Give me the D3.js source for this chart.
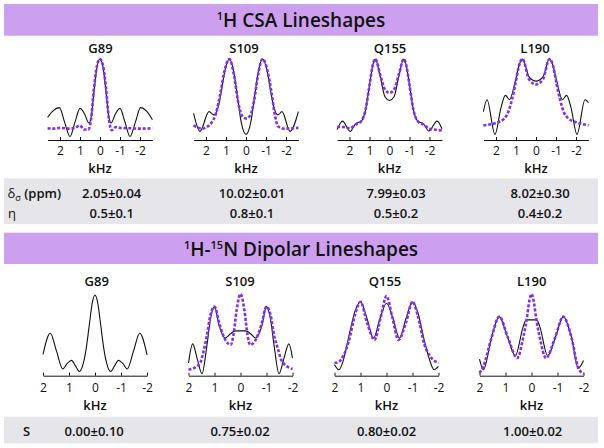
<!DOCTYPE html>
<html><head><meta charset="utf-8">
<script src="https://cdn.jsdelivr.net/npm/d3@7"></script>
<style>body{margin:0;background:#fff}svg{display:block}</style>
</head><body><svg id="c" width="604" height="448"></svg>
<script>
// ---------- data ----------
const residues = ["G89", "S109", "Q155", "L190"];
const kHzTicks = [2, 1, 0, -1, -2];
const csaDelta = ["2.05±0.04", "10.02±0.01", "7.99±0.03", "8.02±0.30"];
const csaEta = ["0.5±0.1", "0.8±0.1", "0.5±0.2", "0.4±0.2"];
const dipolarS = ["0.00±0.10", "0.75±0.02", "0.80±0.02", "1.00±0.02"];

// 1H CSA lineshapes: [kHz, normalized intensity]; Exp = black solid, Sim = purple dashed
const csaExpG89 = [[2.62,0.28],[2.35,0.36],[2.03,0.40],[1.77,0.22],[1.5,0.044],[1.25,0.22],[1.0,0.39],[0.77,0.32],[0.55,0.21],[0.43,0.3],[0.3,0.6],[0.15,0.9],[0,1.0],[-0.15,0.9],[-0.3,0.6],[-0.43,0.3],[-0.55,0.21],[-0.77,0.32],[-1.0,0.39],[-1.25,0.22],[-1.5,0.044],[-1.77,0.22],[-2.03,0.40],[-2.35,0.35],[-2.62,0.25]];
const csaSimG89 = [[2.62,0.145],[2.3,0.14],[2.0,0.15],[1.6,0.14],[1.25,0.15],[1.0,0.18],[0.8,0.13],[0.58,0.13],[0.45,0.25],[0.3,0.64],[0.15,0.92],[0,1.0],[-0.15,0.92],[-0.3,0.64],[-0.45,0.25],[-0.58,0.12],[-0.8,0.16],[-1.0,0.15],[-1.5,0.145],[-2.0,0.14],[-2.62,0.145]];
const csaExpS109 = [[2.62,0.33],[2.3,0.107],[1.85,0.35],[1.6,0.31],[1.4,0.40],[1.22,0.62],[1.05,0.86],[0.83,1.0],[0.62,0.85],[0.43,0.54],[0.24,0.22],[0,0.069],[-0.24,0.22],[-0.43,0.54],[-0.62,0.85],[-0.83,1.0],[-1.05,0.86],[-1.22,0.62],[-1.4,0.40],[-1.6,0.31],[-1.8,0.35],[-2.2,0.107],[-2.62,0.35]];
const csaSimS109 = [[2.62,0.18],[2.2,0.14],[1.9,0.17],[1.7,0.22],[1.5,0.33],[1.28,0.58],[1.07,0.86],[0.83,1.0],[0.6,0.8],[0.4,0.48],[0.2,0.3],[0,0.267],[-0.2,0.3],[-0.4,0.48],[-0.6,0.8],[-0.83,1.0],[-1.07,0.86],[-1.28,0.58],[-1.45,0.3],[-1.6,0.17],[-1.9,0.14],[-2.62,0.15]];
const csaExpQ155 = [[2.62,0.128],[2.35,0.233],[1.97,0.107],[1.7,0.2],[1.42,0.23],[1.2,0.37],[0.98,0.71],[0.84,0.92],[0.71,1.0],[0.48,0.8],[0.22,0.53],[0,0.488],[-0.22,0.53],[-0.48,0.8],[-0.71,1.0],[-0.84,0.92],[-0.98,0.71],[-1.2,0.37],[-1.42,0.23],[-1.7,0.2],[-1.97,0.111],[-2.38,0.233],[-2.62,0.14]];
const csaSimQ155 = [[2.62,0.161],[2.3,0.16],[1.97,0.145],[1.7,0.19],[1.42,0.23],[1.2,0.37],[0.98,0.71],[0.84,0.92],[0.71,1.0],[0.48,0.82],[0.22,0.62],[0,0.581],[-0.22,0.62],[-0.48,0.82],[-0.71,1.0],[-0.84,0.92],[-0.98,0.71],[-1.2,0.37],[-1.42,0.23],[-1.7,0.19],[-2.0,0.14],[-2.62,0.119]];
const csaExpL190 = [[2.63,0.35],[2.45,0.497],[2.05,0.069],[1.75,0.4],[1.53,0.551],[1.32,0.497],[1.05,0.711],[0.85,0.92],[0.67,1.0],[0.35,0.78],[0,0.727],[-0.35,0.78],[-0.67,1.0],[-0.85,0.92],[-1.05,0.711],[-1.32,0.497],[-1.53,0.551],[-1.75,0.4],[-2.05,0.069],[-2.45,0.497],[-2.63,0.46]];
const csaSimL190 = [[2.63,0.182],[2.0,0.211],[1.6,0.26],[1.4,0.34],[1.2,0.5],[1.0,0.73],[0.85,0.92],[0.67,1.0],[0.35,0.75],[0,0.686],[-0.35,0.75],[-0.67,1.0],[-0.85,0.92],[-1.0,0.73],[-1.2,0.5],[-1.4,0.34],[-1.6,0.27],[-2.0,0.22],[-2.63,0.182]];

// 1H-15N dipolar lineshapes
const dipExpG89 = [[2.0,0.26],[1.72,0.52],[1.48,0.3],[1.24,0.082],[1.07,0.15],[0.9,0.187],[0.75,0.12],[0.6,0.052],[0.45,0.15],[0.33,0.35],[0.22,0.62],[0.1,0.9],[0,0.988],[-0.1,0.9],[-0.22,0.62],[-0.33,0.35],[-0.45,0.15],[-0.6,0.052],[-0.75,0.12],[-0.9,0.187],[-1.07,0.15],[-1.24,0.082],[-1.48,0.3],[-1.72,0.52],[-2.0,0.256]];
const dipExpS109 = [[2.0,0.155],[1.84,0.39],[1.66,0.2],[1.48,0.024],[1.3,0.35],[1.15,0.7],[1.0,0.845],[0.82,0.61],[0.59,0.46],[0.4,0.51],[0.2,0.549],[0,0.549],[-0.2,0.549],[-0.4,0.51],[-0.59,0.46],[-0.82,0.61],[-1.0,0.845],[-1.15,0.7],[-1.3,0.35],[-1.48,0.024],[-1.66,0.2],[-1.86,0.39],[-2.0,0.216]];
const dipSimS109 = [[2.0,0.073],[1.7,0.11],[1.55,0.155],[1.42,0.3],[1.3,0.479],[1.15,0.75],[1.0,0.845],[0.8,0.62],[0.55,0.42],[0.37,0.378],[0.27,0.5],[0.15,0.8],[0,1.0],[-0.15,0.8],[-0.27,0.5],[-0.37,0.378],[-0.55,0.42],[-0.8,0.62],[-1.0,0.845],[-1.15,0.75],[-1.3,0.479],[-1.42,0.35],[-1.6,0.174],[-2.0,0.082]];
const dipExpQ155 = [[2.0,0.134],[1.83,0.073],[1.65,0.2],[1.45,0.479],[1.2,0.8],[1.0,0.906],[0.75,0.7],[0.5,0.46],[0.25,0.7],[0,0.887],[-0.25,0.7],[-0.5,0.46],[-0.75,0.7],[-1.0,0.906],[-1.2,0.78],[-1.45,0.439],[-1.65,0.2],[-1.83,0.073],[-2.0,0.113]];
const dipSimQ155 = [[2.0,0.155],[1.83,0.17],[1.65,0.25],[1.45,0.42],[1.2,0.76],[1.0,0.906],[0.75,0.65],[0.46,0.439],[0.22,0.72],[0,0.976],[-0.22,0.72],[-0.46,0.439],[-0.75,0.65],[-1.0,0.906],[-1.2,0.74],[-1.45,0.39],[-1.65,0.25],[-1.83,0.187],[-2.0,0.155]];
const dipExpL190 = [[2.0,0.204],[1.85,0.073],[1.53,0.479],[1.24,0.723],[0.93,0.48],[0.62,0.244],[0.32,0.601],[0.2,0.683],[0,0.683],[-0.2,0.683],[-0.32,0.601],[-0.62,0.244],[-0.93,0.48],[-1.22,0.723],[-1.53,0.479],[-1.8,0.094],[-2.0,0.187]];
const dipSimL190 = [[2.0,0.033],[1.85,0.113],[1.55,0.45],[1.24,0.723],[0.9,0.46],[0.55,0.216],[0.31,0.48],[0.18,0.7],[0.08,0.92],[0,1.0],[-0.08,0.92],[-0.18,0.7],[-0.31,0.48],[-0.56,0.216],[-0.9,0.46],[-1.22,0.723],[-1.55,0.45],[-1.8,0.094],[-2.0,0.024]];

const csaExp = [csaExpG89, csaExpS109, csaExpQ155, csaExpL190];
const csaSim = [csaSimG89, csaSimS109, csaSimQ155, csaSimL190];
const dipExp = [dipExpG89, dipExpS109, dipExpQ155, dipExpL190];
const dipSim = [null, dipSimS109, dipSimQ155, dipSimL190];

// ---------- layout ----------
const FONT = "'Open Sans', sans-serif";
const PURPLE_BAND = "#cda0ef";
const GRAY_BAND = "#e6e5ea";
const DASH = "#7f2ef2";
const svg = d3.select("#c");

function band(y, h, fill) {
  svg.append("rect").attr("x", 4).attr("y", y).attr("width", 594).attr("height", h).attr("fill", fill);
}
function header(y, h, baseline, parts) {
  band(y, h, PURPLE_BAND);
  const t = svg.append("text").attr("x", 301).attr("y", baseline).attr("text-anchor", "middle")
    .attr("font-family", FONT).attr("font-weight", 600).attr("font-size", 19).attr("fill", "#111");
  parts.forEach(p => {
    const s = t.append("tspan").text(p.t);
    if (p.sup) s.attr("font-size", 11).attr("dy", -7);
    if (p.down) s.attr("dy", 7);
  });
}

header(4, 31.7, 27, [{t:"1", sup:true}, {t:"H CSA Lineshapes", down:true}]);
header(232.7, 31.3, 255.5, [{t:"1", sup:true}, {t:"H-", down:true}, {t:"15", sup:true}, {t:"N Dipolar Lineshapes", down:true}]);

function panelRow(cfg) {
  cfg.centers.forEach((cx, i) => {
    const x = d3.scaleLinear().domain([cfg.half, -cfg.half]).range([cx - cfg.half * cfg.ppk, cx + cfg.half * cfg.ppk]);
    const y = d3.scaleLinear().domain([0, 1]).range([cfg.axisY, cfg.topY]);
    svg.append("text").attr("x", cfg.titleX[i]).attr("y", cfg.titleY).attr("text-anchor", "middle")
      .attr("font-family", FONT).attr("font-weight", 600).attr("font-size", 13).attr("fill", "#111")
      .text(residues[i]);
    const ax = svg.append("g").attr("transform", `translate(0,${cfg.axisY})`)
      .call(d3.axisBottom(x).tickValues(kHzTicks).tickSizeInner(-3).tickSizeOuter(0)
        .tickPadding(cfg.pad).tickFormat(d => String(d)));
    ax.selectAll("text").attr("font-family", FONT).attr("font-size", 12).attr("fill", "#111");
    ax.select(".domain").attr("stroke", "#111");
    ax.selectAll(".tick line").attr("stroke", "#111");
    svg.append("text").attr("x", cx).attr("y", cfg.khzY).attr("text-anchor", "middle")
      .attr("font-family", FONT).attr("font-weight", 600).attr("font-size", 13).attr("fill", "#111")
      .text("kHz");
    const line = d3.line().x(d => x(d[0])).y(d => y(d[1])).curve(d3.curveMonotoneX);
    svg.append("path").datum(cfg.exp[i]).attr("d", line).attr("fill", "none")
      .attr("stroke", "#111").attr("stroke-width", 1.1);
    if (cfg.sim[i]) {
      svg.append("path").datum(cfg.sim[i]).attr("d", line).attr("fill", "none")
        .attr("stroke", DASH).attr("stroke-width", 2.6).attr("stroke-dasharray", "3,1.8");
    }
  });
}

panelRow({centers:[100, 246, 389.5, 536], titleX:[100.5, 244, 390, 535], half:2.62, ppk:20,
  axisY:140, topY:59, titleY:53, pad:6, khzY:172.5, exp:csaExp, sim:csaSim});
panelRow({centers:[95, 240.5, 386.5, 531.5], titleX:[96.7, 240, 385, 531.7], half:2, ppk:26,
  axisY:375.7, topY:294, titleY:286.3, pad:8, khzY:409.5, exp:dipExp, sim:dipSim});

// ---------- tables ----------
const csaCols = [111.7, 252, 396, 540];
const dipCols = [94.2, 240, 386.5, 532.7];
band(178.3, 45.7, GRAY_BAND);
band(416.7, 26.7, GRAY_BAND);

function cell(x, y, txt, anchor) {
  svg.append("text").attr("x", x).attr("y", y).attr("text-anchor", anchor || "middle")
    .attr("font-family", FONT).attr("font-weight", 600).attr("font-size", 13).attr("fill", "#111").text(txt);
}
csaDelta.forEach((v, i) => cell(csaCols[i], 198, v));
csaEta.forEach((v, i) => cell(csaCols[i], 217.5, v));
dipolarS.forEach((v, i) => cell(dipCols[i], 436.3, v));

const dl = svg.append("text").attr("x", 7.5).attr("y", 198).attr("font-family", FONT)
  .attr("font-size", 13).attr("fill", "#111");
dl.append("tspan").text("δ");
dl.append("tspan").attr("font-size", 9).attr("dy", 3).text("σ");
dl.append("tspan").attr("dy", -3).attr("font-weight", 600).text(" (ppm)");
svg.append("text").attr("x", 8).attr("y", 217.5).attr("font-family", FONT).attr("font-size", 13)
  .attr("fill", "#111").text("η");
cell(23, 436.3, "S", "start");
</script></body></html>
